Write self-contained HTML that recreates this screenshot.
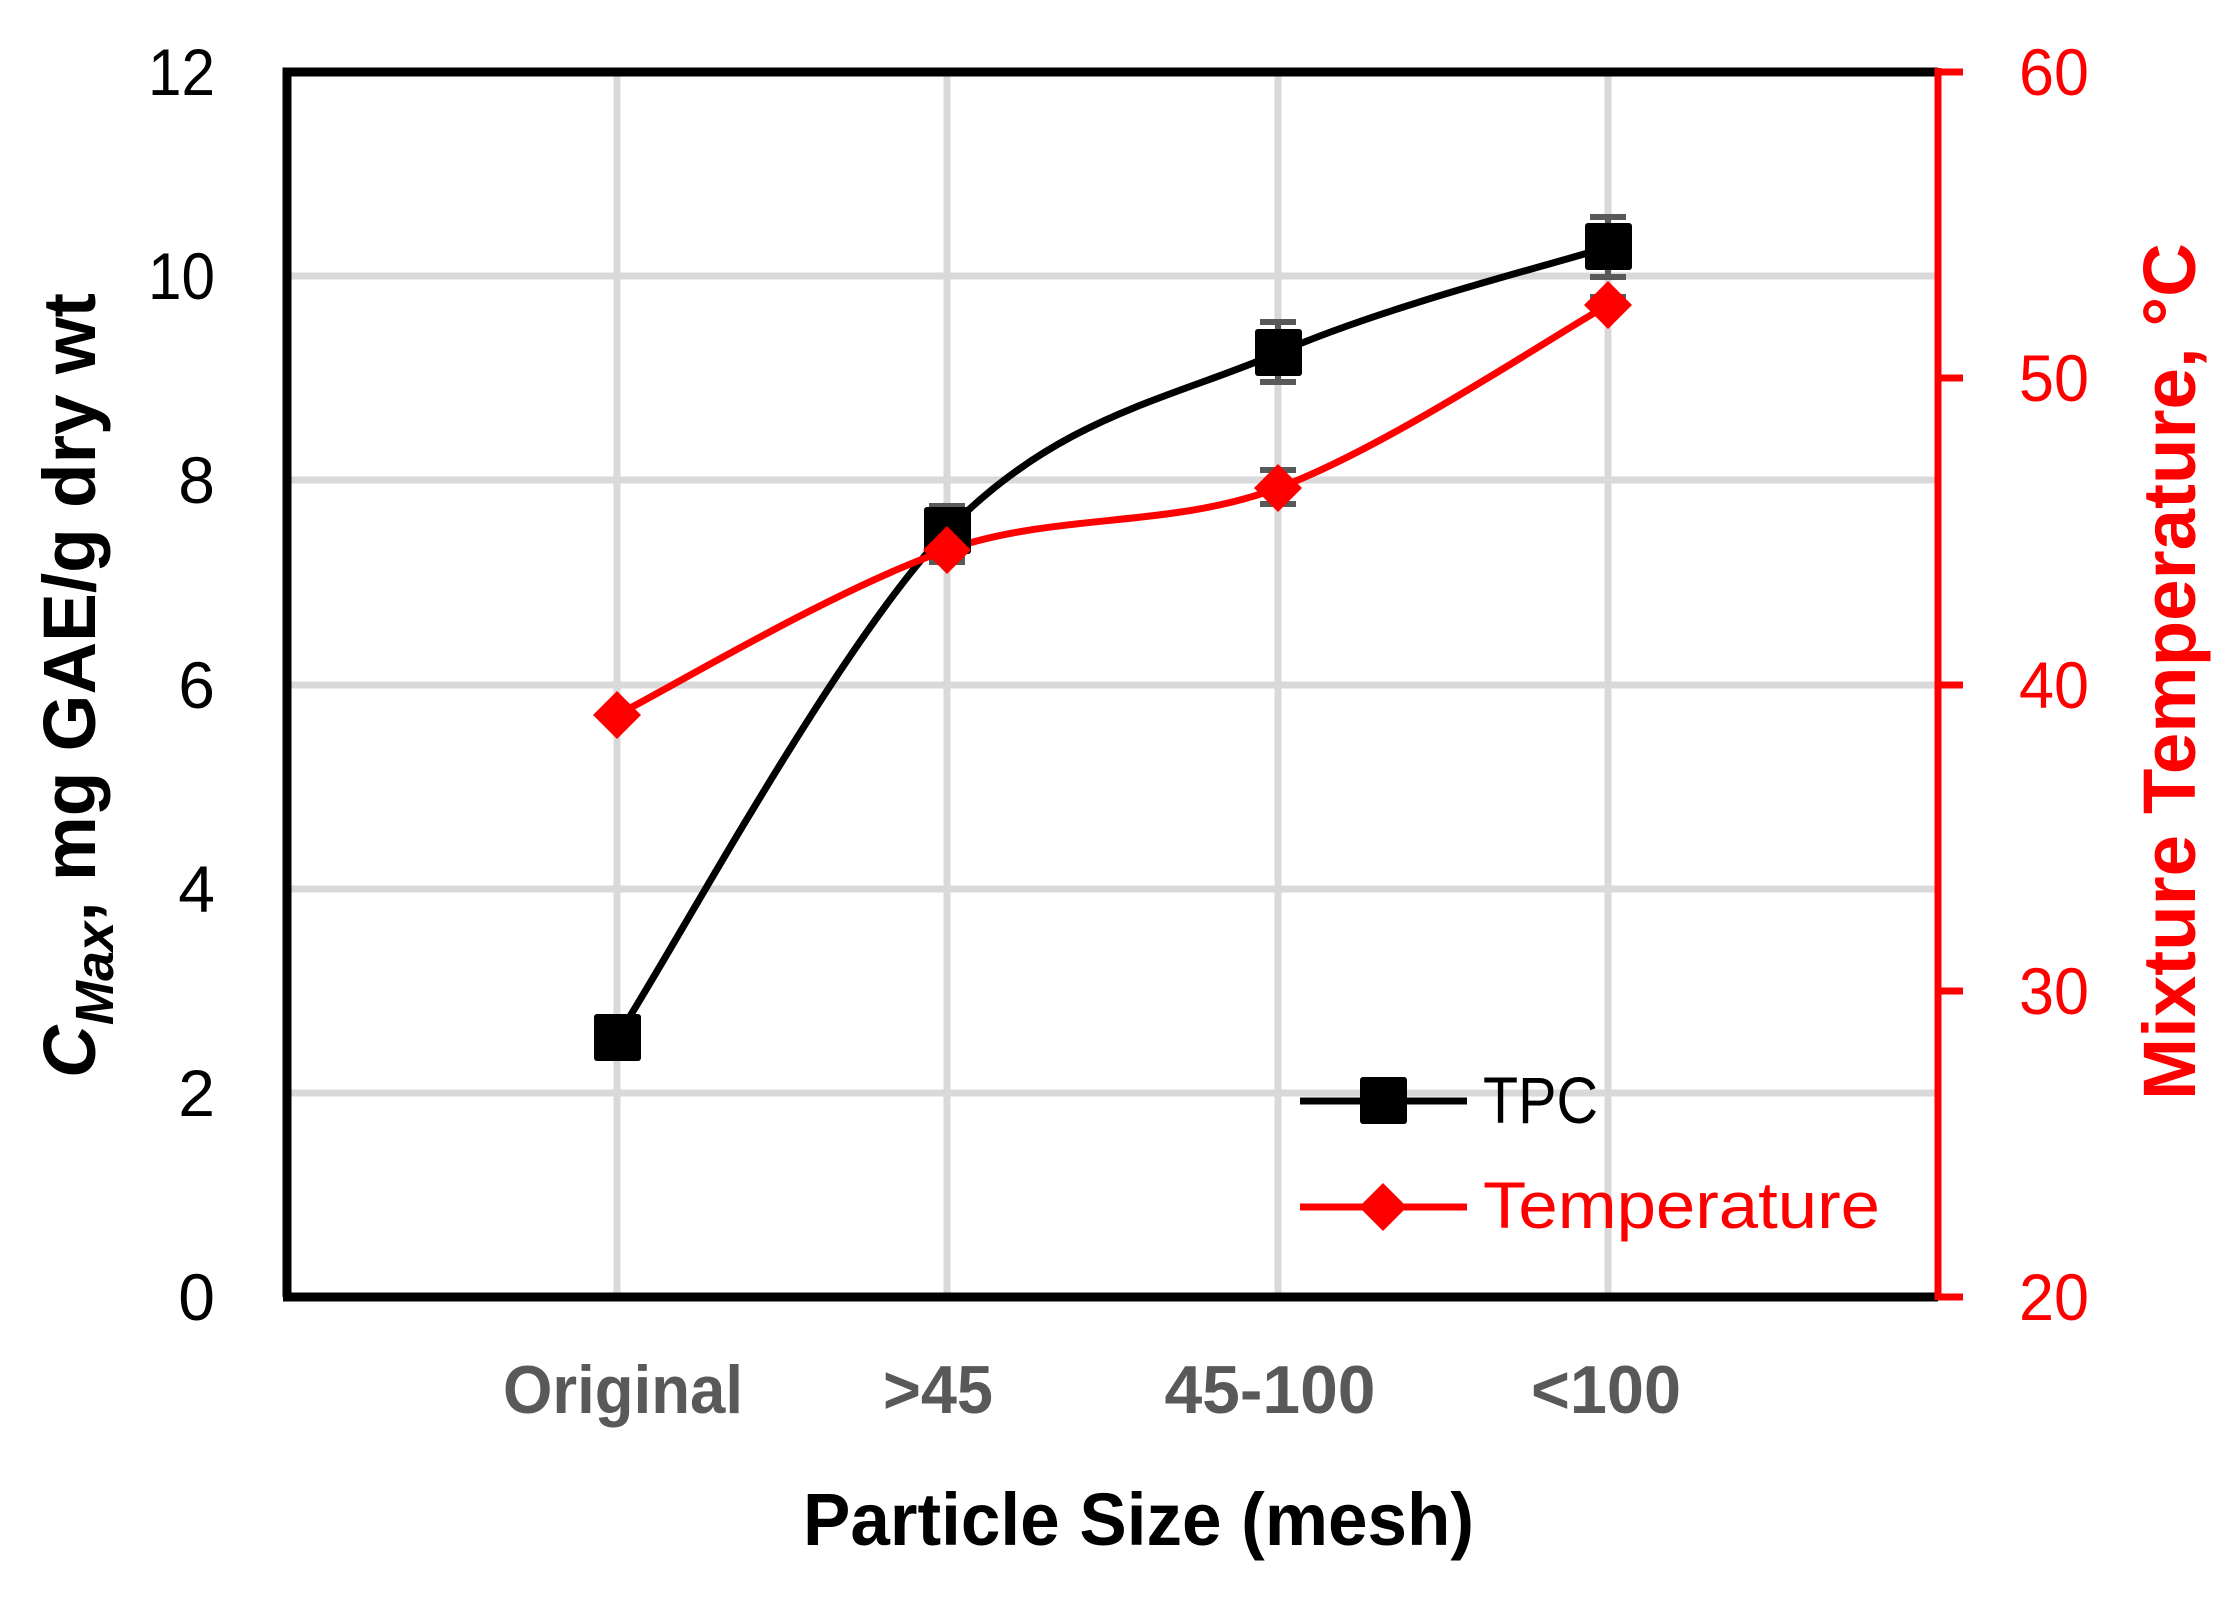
<!DOCTYPE html>
<html><head><meta charset="utf-8"><style>
html,body{margin:0;padding:0;background:#fff;}
svg{display:block;}
</style></head><body>
<svg width="2238" height="1612" viewBox="0 0 2238 1612" xmlns="http://www.w3.org/2000/svg">
<rect width="2238" height="1612" fill="#fff"/>
<g stroke="#d9d9d9" stroke-width="7">
<line x1="287" y1="1093" x2="1938" y2="1093"/>
<line x1="287" y1="889" x2="1938" y2="889"/>
<line x1="287" y1="685" x2="1938" y2="685"/>
<line x1="287" y1="480" x2="1938" y2="480"/>
<line x1="287" y1="276" x2="1938" y2="276"/>
<line x1="617" y1="72" x2="617" y2="1297"/>
<line x1="947" y1="72" x2="947" y2="1297"/>
<line x1="1278" y1="72" x2="1278" y2="1297"/>
<line x1="1608" y1="72" x2="1608" y2="1297"/>
</g>
<polyline points="287,1297 287,72 1938,72" fill="none" stroke="#000" stroke-width="9"/>
<line x1="283" y1="1297" x2="1938" y2="1297" stroke="#000" stroke-width="9"/>
<g stroke="#f00" stroke-width="7">
<line x1="1938" y1="68" x2="1938" y2="1300"/>
<line x1="1938" y1="72" x2="1963" y2="72"/>
<line x1="1938" y1="378" x2="1963" y2="378"/>
<line x1="1938" y1="685" x2="1963" y2="685"/>
<line x1="1938" y1="991" x2="1963" y2="991"/>
<line x1="1938" y1="1297" x2="1963" y2="1297"/>
</g>
<g stroke="#595959" stroke-width="6">
<line x1="947" y1="506" x2="947" y2="556"/><line x1="929" y1="506" x2="965" y2="506"/><line x1="929" y1="556" x2="965" y2="556"/>
<line x1="1278" y1="322" x2="1278" y2="382"/><line x1="1260" y1="322" x2="1296" y2="322"/><line x1="1260" y1="382" x2="1296" y2="382"/>
<line x1="1608" y1="217" x2="1608" y2="277"/><line x1="1590" y1="217" x2="1626" y2="217"/><line x1="1590" y1="277" x2="1626" y2="277"/>
<line x1="1278" y1="470" x2="1278" y2="504"/><line x1="1260" y1="470" x2="1296" y2="470"/><line x1="1260" y1="504" x2="1296" y2="504"/>
<line x1="947" y1="538" x2="947" y2="562"/><line x1="929" y1="538" x2="965" y2="538"/><line x1="929" y1="562" x2="965" y2="562"/>
<line x1="1590" y1="297" x2="1626" y2="297"/>
</g>
<path d="M617,1037 C672,953 837,645 947,531 C1057,417 1168,400 1278,353 C1388,305 1554,264 1608,247" fill="none" stroke="#000" stroke-width="7"/>
<path d="M617,715 C672,687 837,588 947,550 C1057,512 1168,529 1278,488 C1388,447 1554,335 1608,305" fill="none" stroke="#f00" stroke-width="7"/>
<g fill="#000">
<rect x="594" y="1014" width="47" height="47" rx="3"/>
<rect x="924" y="507" width="47" height="47" rx="3"/>
<rect x="1255" y="329" width="47" height="47" rx="3"/>
<rect x="1585" y="223" width="47" height="47" rx="3"/>
</g>
<g fill="#f00">
<polygon points="617,691 641,715 617,739 593,715"/>
<polygon points="947,526 971,550 947,574 923,550"/>
<polygon points="1278,464 1302,488 1278,512 1254,488"/>
<polygon points="1608,281 1632,305 1608,329 1584,305"/>
</g>
<line x1="1300" y1="1101" x2="1467" y2="1101" stroke="#000" stroke-width="7"/>
<rect x="1360" y="1077" width="47" height="47" rx="3" fill="#000"/>
<line x1="1300" y1="1207" x2="1467" y2="1207" stroke="#f00" stroke-width="7"/>
<polygon points="1383,1183 1407,1207 1383,1231 1359,1207" fill="#f00"/>
<g font-family="Liberation Sans, sans-serif" font-size="66">
<text x="1483" y="1123" textLength="115" lengthAdjust="spacingAndGlyphs" fill="#000">TPC</text>
<text x="1483" y="1228" textLength="397" lengthAdjust="spacingAndGlyphs" fill="#f00">Temperature</text>
</g>
<g font-family="Liberation Sans, sans-serif" font-size="66" fill="#000" text-anchor="end">
<text x="215" y="1320">0</text>
<text x="215" y="1116">2</text>
<text x="215" y="912">4</text>
<text x="215" y="708">6</text>
<text x="215" y="503">8</text>
<text x="215" y="299" textLength="67" lengthAdjust="spacingAndGlyphs">10</text>
<text x="215" y="95" textLength="67" lengthAdjust="spacingAndGlyphs">12</text>
</g>
<g font-family="Liberation Sans, sans-serif" font-size="66" fill="#f00">
<text x="2019" y="1320" textLength="70" lengthAdjust="spacingAndGlyphs">20</text>
<text x="2019" y="1014" textLength="70" lengthAdjust="spacingAndGlyphs">30</text>
<text x="2019" y="708" textLength="70" lengthAdjust="spacingAndGlyphs">40</text>
<text x="2019" y="401" textLength="70" lengthAdjust="spacingAndGlyphs">50</text>
<text x="2019" y="95" textLength="70" lengthAdjust="spacingAndGlyphs">60</text>
</g>
<g font-family="Liberation Sans, sans-serif" font-size="68" font-weight="bold" fill="#595959" text-anchor="middle">
<text x="623" y="1413" textLength="240" lengthAdjust="spacingAndGlyphs">Original</text>
<text x="938" y="1413" textLength="110" lengthAdjust="spacingAndGlyphs">&gt;45</text>
<text x="1270" y="1413" textLength="211" lengthAdjust="spacingAndGlyphs">45-100</text>
<text x="1606" y="1413" textLength="150" lengthAdjust="spacingAndGlyphs">&lt;100</text>
</g>
<text x="803" y="1545" font-family="Liberation Sans, sans-serif" font-size="74" font-weight="bold" fill="#000" textLength="671" lengthAdjust="spacingAndGlyphs">Particle Size (mesh)</text>
<text transform="translate(95,1078) rotate(-90)" font-family="Liberation Sans, sans-serif" font-size="74" font-weight="bold" fill="#000" textLength="785" lengthAdjust="spacingAndGlyphs"><tspan font-style="italic">C</tspan><tspan font-style="italic" font-size="54" dy="18">Max</tspan><tspan dy="-18">, mg GAE/g dry wt</tspan></text>
<text transform="translate(2195,1100) rotate(-90)" font-family="Liberation Sans, sans-serif" font-size="74" font-weight="bold" fill="#f00" textLength="857" lengthAdjust="spacingAndGlyphs">Mixture Temperature, °C</text>
</svg>
</body></html>
